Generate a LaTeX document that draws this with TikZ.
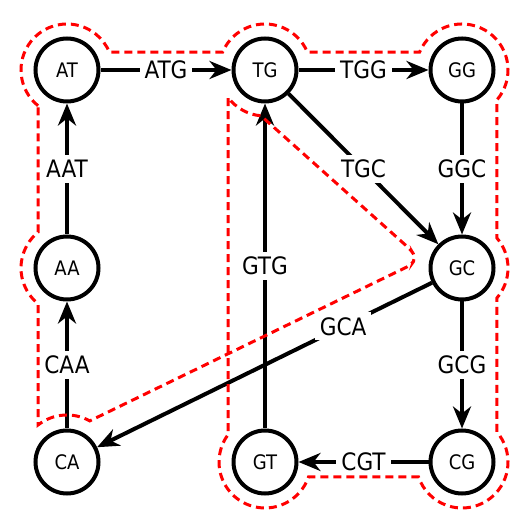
\documentclass[tikz,border=0pt]{standalone}
\usepackage{fontspec}
\setmainfont{DejaVu Sans Condensed}
\usetikzlibrary{arrows.meta,calc}
\begin{document}
\begin{tikzpicture}[x=1pt,y=1pt,
  vtx/.style={circle,draw,line width=4pt,minimum size=63pt,inner sep=0pt,outer sep=2pt,font=\fontsize{20}{20}\selectfont},
  link/.style={line width=4pt,-{Stealth[length=22pt,width=18pt,inset=7pt]}},
  elab/.style={fill=white,inner sep=5pt,font=\fontsize{24}{24}\selectfont},
  hull/.style={red,line width=3pt,dash pattern=on 8pt off 5pt}]
\useasboundingbox (0,0) rectangle (529,529);
\node[vtx] (AT) at (67,459) {AT};
\node[vtx] (TG) at (265,459) {TG};
\node[vtx] (GG) at (462,459) {GG};
\node[vtx] (AA) at (67,261) {AA};
\node[vtx] (GC) at (462,261) {GC};
\node[vtx] (CA) at (67,67) {CA};
\node[vtx] (GT) at (265,67) {GT};
\node[vtx] (CG) at (462,67) {CG};
\draw[link] (AT) -- node[elab]{ATG} (TG);
\draw[link] (AA) -- node[elab]{AAT} (AT);
\draw[link] (CA) -- node[elab]{CAA} (AA);
\draw[link] (TG) -- node[elab]{TGG} (GG);
\draw[link] (TG) -- node[elab]{TGC} (GC);
\draw[link] (GG) -- node[elab]{GGC} (GC);
\draw[link] (GC) -- node[elab,pos=0.265]{GCA} (CA);
\draw[link] (GT) -- node[elab]{GTG} (TG);
\draw[link] (GC) -- node[elab]{GCG} (CG);
\draw[link] (CG) -- node[elab]{CGT} (GT);
\draw[hull] ($(AT)+(231:46)$) arc[start angle=231,end angle=23,radius=46]
  -- ($(TG)+(157:46)$) arc[start angle=157,end angle=23,radius=46]
  -- ($(GG)+(157:46)$) arc[start angle=157,end angle=-40.5,radius=46]
  -- ($(GC)+(40.5:46)$) arc[start angle=40.5,end angle=-40.5,radius=46]
  -- ($(CG)+(40.5:46)$) arc[start angle=40.5,end angle=-161,radius=46]
  -- ($(GT)+(-19:46)$) arc[start angle=-19,end angle=-216.5,radius=46]
  -- ($(TG)+(216.5:46)$) arc[start angle=216.5,end angle=265,radius=46]
  [rounded corners=5pt] -- (411,279) -- (416,271) -- (411,264) [sharp corners]
  -- ($(CA)+(61:47)$) arc[start angle=61,end angle=128,radius=47]
  -- ($(AA)+(231:46)$) arc[start angle=231,end angle=129,radius=46]
  -- cycle;
\end{tikzpicture}
\end{document}
